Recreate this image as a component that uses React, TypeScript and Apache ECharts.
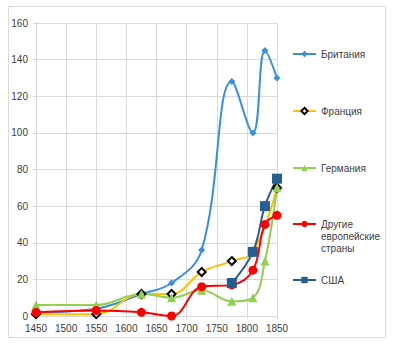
import React, { useEffect, useRef } from "react";
import * as echarts from "echarts";

const seriesNames = ["Британия", "Франция", "Германия", "Другие европейские страны", "США"];
const britain: [number, number][] = [[1450, 2], [1550, 4], [1625, 12], [1675, 18], [1725, 36], [1775, 128], [1810, 100], [1830, 145], [1850, 130]];
const france: [number, number][] = [[1450, 1], [1550, 1], [1625, 12], [1675, 12], [1725, 24], [1775, 30], [1810, 35], [1850, 70]];
const germany: [number, number][] = [[1450, 6], [1550, 6], [1625, 12], [1675, 10], [1725, 14], [1775, 8], [1810, 10], [1830, 30], [1850, 70]];
const others: [number, number][] = [[1450, 2], [1550, 3], [1625, 2], [1675, 0], [1725, 16], [1775, 17], [1810, 25], [1830, 50], [1850, 55]];
const usa: [number, number][] = [[1775, 18], [1810, 35], [1830, 60], [1850, 75]];
const legendLabels = ["Британия", "Франция", "Германия", "\n\nДругие\nевропейские\nстраны", "США"];

const FONT = "'Liberation Sans', Arial, sans-serif";
const legendCenters = [54, 111, 168, 224, 280];

export default function App() {
  const ref = useRef<HTMLDivElement>(null);
  useEffect(() => {
    document.body.style.margin = "0";
    const chart = echarts.init(ref.current!, undefined, { renderer: "svg" });
    const legends = seriesNames.map((name, i) => {
      const multi = i === 3;
      return {
        data: [name],
        orient: "vertical",
        left: 292,
        top: multi ? legendCenters[i] - 30 : legendCenters[i] - 6,
        padding: 0,
        itemWidth: 23,
        itemHeight: 8,
        selectedMode: false,
        formatter: () => legendLabels[i],
        textStyle: {
          fontFamily: FONT,
          fontSize: 10,
          color: "#404040",
          lineHeight: 12,
        },
      };
    });
    const mk = (name: string, data: [number, number][], color: string, symbol: string, size: number, extra: any = {}) => ({
      name,
      type: "line",
      data,
      smooth: 0.4,
      symbol,
      symbolSize: size,
      lineStyle: { color, width: 2 },
      itemStyle: { color },
      ...extra,
    });
    chart.setOption({
      animation: false,
      grid: { left: 36, top: 23, width: 241, height: 293 },
      legend: legends,
      graphic: [
        {
          type: "rect",
          shape: { x: 8.5, y: 6.5, width: 377, height: 331 },
          style: { fill: "none", stroke: "#d9d9d9", lineWidth: 1 },
          silent: true,
        },
      ],
      xAxis: {
        type: "value",
        min: 1450,
        max: 1850,
        interval: 50,
        axisLine: { show: true, lineStyle: { color: "#d9d9d9" } },
        axisTick: { show: true, length: 3, lineStyle: { color: "#d9d9d9" } },
        splitLine: { show: true, lineStyle: { color: "#d9d9d9" } },
        axisLabel: {
          fontFamily: FONT,
          fontSize: 10,
          color: "#404040",
          margin: 7,
          formatter: (v: number) => String(v),
        },
      },
      yAxis: {
        type: "value",
        min: 0,
        max: 160,
        interval: 20,
        axisLine: { show: true, lineStyle: { color: "#d9d9d9" } },
        axisTick: { show: true, length: 3, lineStyle: { color: "#d9d9d9" } },
        splitLine: { show: true, lineStyle: { color: "#d9d9d9" } },
        axisLabel: { fontFamily: FONT, fontSize: 10, color: "#404040", margin: 8 },
      },
      series: [
        mk(seriesNames[0], britain, "#3A8EDE", "diamond", 7),
        mk(seriesNames[1], france, "#FFC000", "diamond", 8, {
          itemStyle: { color: "#ffffff", borderColor: "#000000", borderWidth: 2 },
        }),
        mk(seriesNames[2], germany, "#92D050", "triangle", 9),
        mk(seriesNames[3], others, "#FF0000", "circle", 9),
        mk(seriesNames[4], usa, "#255E91", "rect", 10),
      ],
    });
    return () => chart.dispose();
  }, []);
  return <div ref={ref} style={{ width: 399, height: 347 }} />;
}
